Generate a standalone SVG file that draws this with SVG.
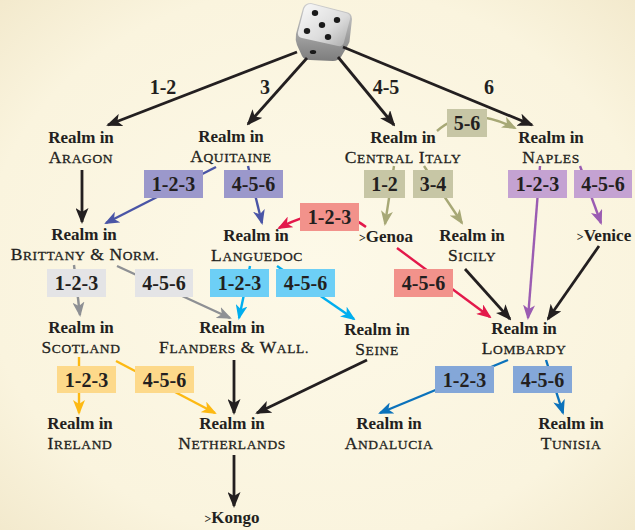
<svg xmlns="http://www.w3.org/2000/svg" width="635" height="530" viewBox="0 0 635 530">
  <defs>
    <radialGradient id="paper" cx="50%" cy="50%" r="75%">
      <stop offset="0" stop-color="#fdf9e8"/>
      <stop offset="0.7" stop-color="#faf4de"/>
      <stop offset="1" stop-color="#f1e7c9"/>
    </radialGradient>
    <linearGradient id="dieFace" x1="0" y1="0" x2="1" y2="1">
      <stop offset="0" stop-color="#fafafa"/>
      <stop offset="0.6" stop-color="#dcdcdc"/>
      <stop offset="1" stop-color="#a9a9a9"/>
    </linearGradient>
    <linearGradient id="dieSide" x1="0" y1="0" x2="0" y2="1">
      <stop offset="0" stop-color="#d0d0d0"/>
      <stop offset="1" stop-color="#7d7d7d"/>
    </linearGradient>
    <marker id="ah-black" viewBox="0 0 16 13" markerWidth="16" markerHeight="13" refX="14" refY="6.5" orient="auto" markerUnits="userSpaceOnUse">
      <path d="M0,0 L16,6.5 L0,13 L4,6.5 Z" fill="#231f20"/>
    </marker>
    <marker id="ah-indigo" viewBox="0 0 15 12" markerWidth="15" markerHeight="12" refX="13" refY="6" orient="auto" markerUnits="userSpaceOnUse">
      <path d="M0,0 L15,6 L0,12 L4,6 Z" fill="#4a55a6"/>
    </marker>
    <marker id="ah-olive" viewBox="0 0 15 12" markerWidth="15" markerHeight="12" refX="13" refY="6" orient="auto" markerUnits="userSpaceOnUse">
      <path d="M0,0 L15,6 L0,12 L4,6 Z" fill="#a7a876"/>
    </marker>
    <marker id="ah-orchid" viewBox="0 0 15 12" markerWidth="15" markerHeight="12" refX="13" refY="6" orient="auto" markerUnits="userSpaceOnUse">
      <path d="M0,0 L15,6 L0,12 L4,6 Z" fill="#9b5cb2"/>
    </marker>
    <marker id="ah-red" viewBox="0 0 15 12" markerWidth="15" markerHeight="12" refX="13" refY="6" orient="auto" markerUnits="userSpaceOnUse">
      <path d="M0,0 L15,6 L0,12 L4,6 Z" fill="#e3194b"/>
    </marker>
    <marker id="ah-gray" viewBox="0 0 15 12" markerWidth="15" markerHeight="12" refX="13" refY="6" orient="auto" markerUnits="userSpaceOnUse">
      <path d="M0,0 L15,6 L0,12 L4,6 Z" fill="#8e9094"/>
    </marker>
    <marker id="ah-cyan" viewBox="0 0 15 12" markerWidth="15" markerHeight="12" refX="13" refY="6" orient="auto" markerUnits="userSpaceOnUse">
      <path d="M0,0 L15,6 L0,12 L4,6 Z" fill="#00aeef"/>
    </marker>
    <marker id="ah-gold" viewBox="0 0 15 12" markerWidth="15" markerHeight="12" refX="13" refY="6" orient="auto" markerUnits="userSpaceOnUse">
      <path d="M0,0 L15,6 L0,12 L4,6 Z" fill="#fdb913"/>
    </marker>
    <marker id="ah-blue" viewBox="0 0 15 12" markerWidth="15" markerHeight="12" refX="13" refY="6" orient="auto" markerUnits="userSpaceOnUse">
      <path d="M0,0 L15,6 L0,12 L4,6 Z" fill="#0b72bb"/>
    </marker>
  </defs>
  <style>
    .ln { fill: none; stroke-width: 2.4; }
    .k { stroke: #231f20; stroke-width: 2.8; marker-end: url(#ah-black); }
    .indigo { stroke: #4a55a6; marker-end: url(#ah-indigo); }
    .olive { stroke: #a7a876; marker-end: url(#ah-olive); }
    .orchid { stroke: #9b5cb2; marker-end: url(#ah-orchid); }
    .red { stroke: #e3194b; marker-end: url(#ah-red); }
    .gray { stroke: #8e9094; marker-end: url(#ah-gray); }
    .cyan { stroke: #00aeef; marker-end: url(#ah-cyan); }
    .gold { stroke: #fdb913; marker-end: url(#ah-gold); }
    .blue { stroke: #0b72bb; marker-end: url(#ah-blue); }
    text { font-family: "Liberation Serif", "Times New Roman", serif; fill: #231f20; text-anchor: middle; }
    .r { font-size: 17px; font-weight: bold; }
    .n { font-size: 17.5px; letter-spacing: 0.6px; stroke: #231f20; stroke-width: 0.3px; }
    .s { font-size: 13.5px; }
    .lb { font-size: 20px; font-weight: bold; }
    .gt { font-size: 12px; }
    .b-indigo { fill: #9b98cb; }
    .b-olive { fill: #c7c6a5; }
    .b-orchid { fill: #c4a2d2; }
    .b-red { fill: #f2928b; }
    .b-gray { fill: #e4e4e6; }
    .b-cyan { fill: #6dcff6; }
    .b-gold { fill: #fdd98a; }
    .b-blue { fill: #84a7d8; }
  </style>

  <rect width="635" height="530" fill="url(#paper)"/>

  <!-- die -->
  <g id="die">
    <path d="M311,3 Q305,3 303,8 L296,34 Q295,40 297,45 L302,56 Q304,60 310,60 L333,61 Q338,61 341,57 L348,45 Q350,42 350,37 L352,19 Q352,13 346,12 Z" fill="url(#dieSide)"/>
    <path d="M311,4 Q306,4 304,9 L298,32 Q297,37 302,38 L338,46 Q343,47 344,42 L350,19 Q351,14 346,13 L315,5 Z" fill="url(#dieFace)"/>
    <g fill="#1a1a1a">
      <ellipse cx="315" cy="13" rx="3.2" ry="3"/>
      <ellipse cx="337" cy="20" rx="3.2" ry="3"/>
      <ellipse cx="322" cy="25" rx="3.2" ry="3"/>
      <ellipse cx="307" cy="31" rx="3.2" ry="3"/>
      <ellipse cx="328" cy="37" rx="3.2" ry="3"/>
      <ellipse cx="313" cy="52" rx="3.2" ry="2"/>
    </g>
  </g>

  <!-- connectors -->
  <g id="connectors">
    <path class="ln k" d="M297,52 L108,125"/>
    <path class="ln k" d="M307,58 L248,124"/>
    <path class="ln k" d="M338,57 L394,125"/>
    <path class="ln k" d="M343,47 L532,125"/>
    <path class="ln k" d="M82,170 L82,222"/>
    <path class="ln indigo" d="M216,167 L106,223"/>
    <path class="ln indigo" d="M248,166 L262,223"/>
    <path class="ln olive" d="M394,166 L385,224"/>
    <path class="ln olive" d="M424,166 L462,223"/>
    <path class="ln olive" d="M437,131 Q467,104 515,128"/>
    <path class="ln orchid" d="M540,166 L528,318"/>
    <path class="ln orchid" d="M580,166 L601,223"/>
    <path class="ln red" d="M366,227 Q332,200 279,228"/>
    <path class="ln red" d="M397,248 L490,317"/>
    <path class="ln k" d="M465,269 L510,319"/>
    <path class="ln k" d="M599,246 L548,319"/>
    <path class="ln gray" d="M74,265 L80,315"/>
    <path class="ln gray" d="M117,266 L230,318"/>
    <path class="ln cyan" d="M250,266 L239,318"/>
    <path class="ln cyan" d="M277,266 L354,319"/>
    <path class="ln gold" d="M79,357 L79,413"/>
    <path class="ln gold" d="M116,361 L215,413"/>
    <path class="ln k" d="M234,360 L234,413"/>
    <path class="ln k" d="M367,360 L257,413"/>
    <path class="ln blue" d="M508,360 L380,413"/>
    <path class="ln blue" d="M546,360 L563,413"/>
    <path class="ln k" d="M234,455 L234,506"/>
  </g>

  <!-- roll labels on connectors -->
  <g id="edge-labels">
    <text class="lb" x="163" y="94">1-2</text>
    <text class="lb" x="265" y="94">3</text>
    <text class="lb" x="386" y="94">4-5</text>
    <text class="lb" x="489" y="94">6</text>

    <rect class="b-indigo" x="144" y="170" width="59" height="28"/>
    <text class="lb" x="173.5" y="191">1-2-3</text>
    <rect class="b-indigo" x="224" y="170" width="59" height="28"/>
    <text class="lb" x="253.5" y="191">4-5-6</text>

    <rect class="b-olive" x="364" y="170" width="41" height="28"/>
    <text class="lb" x="384.5" y="191">1-2</text>
    <rect class="b-olive" x="413" y="170" width="40" height="28"/>
    <text class="lb" x="433" y="191">3-4</text>
    <rect class="b-olive" x="447" y="109" width="40" height="28"/>
    <text class="lb" x="467" y="130">5-6</text>

    <rect class="b-orchid" x="508" y="170" width="59" height="28"/>
    <text class="lb" x="537.5" y="191">1-2-3</text>
    <rect class="b-orchid" x="574" y="170" width="58" height="28"/>
    <text class="lb" x="603" y="191">4-5-6</text>

    <rect class="b-red" x="300" y="203" width="59" height="28"/>
    <text class="lb" x="329.5" y="224">1-2-3</text>
    <rect class="b-red" x="394" y="269" width="59" height="28"/>
    <text class="lb" x="423.5" y="290">4-5-6</text>

    <rect class="b-gray" x="47" y="269" width="59" height="28"/>
    <text class="lb" x="76.5" y="290">1-2-3</text>
    <rect class="b-gray" x="135" y="269" width="58" height="28"/>
    <text class="lb" x="164" y="290">4-5-6</text>

    <rect class="b-cyan" x="210" y="269" width="59" height="28"/>
    <text class="lb" x="239.5" y="290">1-2-3</text>
    <rect class="b-cyan" x="276" y="269" width="59" height="28"/>
    <text class="lb" x="305.5" y="290">4-5-6</text>

    <rect class="b-gold" x="57" y="366" width="59" height="27"/>
    <text class="lb" x="86.5" y="386.5">1-2-3</text>
    <rect class="b-gold" x="135" y="366" width="59" height="27"/>
    <text class="lb" x="164.5" y="386.5">4-5-6</text>

    <rect class="b-blue" x="435" y="366" width="59" height="27"/>
    <text class="lb" x="464.5" y="386.5">1-2-3</text>
    <rect class="b-blue" x="513" y="366" width="59" height="27"/>
    <text class="lb" x="542.5" y="386.5">4-5-6</text>
  </g>

  <!-- realms -->
  <g id="aragon"><text class="r" x="81" y="143">Realm in</text><text class="n" x="81" y="163">A<tspan class="s">RAGON</tspan></text></g>
  <g id="aquitaine"><text class="r" x="231" y="142">Realm in</text><text class="n" x="231" y="162">A<tspan class="s">QUITAINE</tspan></text></g>
  <g id="central-italy"><text class="r" x="403" y="143">Realm in</text><text class="n" x="403" y="163">C<tspan class="s">ENTRAL</tspan> I<tspan class="s">TALY</tspan></text></g>
  <g id="naples"><text class="r" x="551" y="143">Realm in</text><text class="n" x="551" y="163">N<tspan class="s">APLES</tspan></text></g>
  <g id="brittany"><text class="r" x="84" y="240">Realm in</text><text class="n" x="85" y="260">B<tspan class="s">RITTANY</tspan> &amp; N<tspan class="s">ORM.</tspan></text></g>
  <g id="languedoc"><text class="r" x="256" y="241">Realm in</text><text class="n" x="257" y="261">L<tspan class="s">ANGUEDOC</tspan></text></g>
  <g id="genoa"><text class="r" x="386" y="242"><tspan class="gt">&gt;</tspan>Genoa</text></g>
  <g id="sicily"><text class="r" x="472" y="241">Realm in</text><text class="n" x="472" y="261">S<tspan class="s">ICILY</tspan></text></g>
  <g id="venice"><text class="r" x="604" y="241"><tspan class="gt">&gt;</tspan>Venice</text></g>
  <g id="scotland"><text class="r" x="81" y="333">Realm in</text><text class="n" x="81" y="353">S<tspan class="s">COTLAND</tspan></text></g>
  <g id="flanders"><text class="r" x="232" y="333">Realm in</text><text class="n" x="234" y="353">F<tspan class="s">LANDERS</tspan> &amp; W<tspan class="s">ALL.</tspan></text></g>
  <g id="seine"><text class="r" x="377" y="335">Realm in</text><text class="n" x="377" y="355">S<tspan class="s">EINE</tspan></text></g>
  <g id="lombardy"><text class="r" x="524" y="334">Realm in</text><text class="n" x="524" y="354">L<tspan class="s">OMBARDY</tspan></text></g>
  <g id="ireland"><text class="r" x="80" y="429">Realm in</text><text class="n" x="80" y="449">I<tspan class="s">RELAND</tspan></text></g>
  <g id="netherlands"><text class="r" x="232" y="429">Realm in</text><text class="n" x="232" y="449">N<tspan class="s">ETHERLANDS</tspan></text></g>
  <g id="andalucia"><text class="r" x="389" y="429">Realm in</text><text class="n" x="389" y="449">A<tspan class="s">NDALUCIA</tspan></text></g>
  <g id="tunisia"><text class="r" x="571" y="429">Realm in</text><text class="n" x="571" y="449">T<tspan class="s">UNISIA</tspan></text></g>
  <g id="kongo"><text class="r" x="232" y="523"><tspan class="gt">&gt;</tspan>Kongo</text></g>
</svg>
